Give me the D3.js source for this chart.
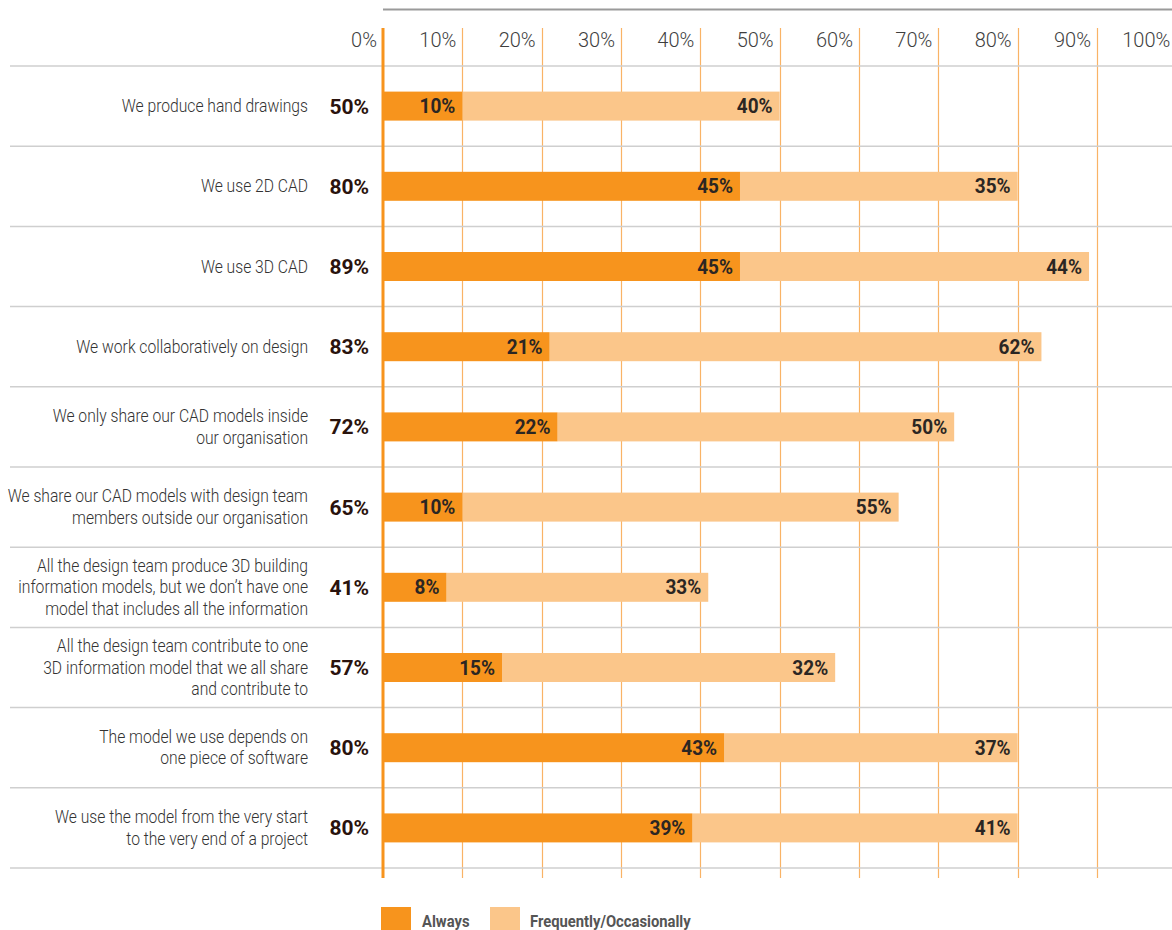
<!DOCTYPE html>
<html>
<head>
<meta charset="utf-8">
<script src="https://cdn.jsdelivr.net/npm/d3@7"></script>
<style>
  html, body { margin: 0; padding: 0; background: #fff; }
  svg { display: block; }
  text { font-family: Roboto, "Liberation Sans", sans-serif; }
</style>
</head>
<body>
<svg id="chart" width="1172" height="930"></svg>
<script>
// Survey statements (each line of a label is its own string)
const categories = [
  ["We produce hand drawings"],
  ["We use 2D CAD"],
  ["We use 3D CAD"],
  ["We work collaboratively on design"],
  ["We only share our CAD models inside", "our organisation"],
  ["We share our CAD models with design team", "members outside our organisation"],
  ["All the design team produce 3D building", "information models, but we don\u2019t have one", "model that includes all the information"],
  ["All the design team contribute to one", "3D information model that we all share", "and contribute to"],
  ["The model we use depends on", "one piece of software"],
  ["We use the model from the very start", "to the very end of a project"]
];
const always     = [10, 45, 45, 21, 22, 10, 8, 15, 43, 39];
const frequently = [40, 35, 44, 62, 50, 55, 33, 42, 37, 41];
// Printed segment figures (the published figure for row 8 reads 32%)
const frequentlyLabels = ["40%", "35%", "44%", "62%", "50%", "55%", "33%", "32%", "37%", "41%"];
const totals     = [50, 80, 89, 83, 72, 65, 41, 57, 80, 80];
const tickValues = [0, 10, 20, 30, 40, 50, 60, 70, 80, 90, 100];
const seriesNames = ["Always", "Frequently/Occasionally"];

const colors = { always: "#f7941d", frequently: "#fbc68a" };

const svg = d3.select("#chart");

const x = d3.scaleLinear().domain([0, 100]).range([383, 1176.3]);
const y = d3.scaleBand().domain(d3.range(categories.length)).range([66, 868]);
const barH = 29;

// Place a text at (px, py) horizontally squeezed to mimic a condensed face
function placeSqueezed(sel, px, py, s) {
  sel.attr("x", 0).attr("y", 0)
    .attr("transform", function (d, i) {
      const X = typeof px === "function" ? px(d, i) : px;
      const Y = typeof py === "function" ? py(d, i) : py;
      return `translate(${X},${Y}) scale(${s},1)`;
    });
}

// Top rule above the scale
svg.append("line")
  .attr("x1", 383).attr("x2", 1172).attr("y1", 9.5).attr("y2", 9.5)
  .attr("stroke", "#9a9a9a").attr("stroke-width", 2);

// Vertical gridlines
svg.append("g").selectAll("line")
  .data(tickValues.filter(d => d > 0))
  .join("line")
  .attr("x1", d => Math.round(x(d)) + 0.5).attr("x2", d => Math.round(x(d)) + 0.5)
  .attr("y1", 28).attr("y2", 878)
  .attr("stroke", "#f9b366").attr("stroke-width", 1.2);

// Row separators
svg.append("g").selectAll("line")
  .data(d3.range(categories.length + 1))
  .join("line")
  .attr("x1", 10).attr("x2", 1172)
  .attr("y1", i => (i < categories.length ? y(i) : y.range()[1]))
  .attr("y2", i => (i < categories.length ? y(i) : y.range()[1]))
  .attr("stroke", "#cfcfcf").attr("stroke-width", 1.5);

// Tick labels, set just left of each gridline
svg.append("g").selectAll("text")
  .data(tickValues)
  .join("text")
  .attr("text-anchor", "end")
  .attr("font-size", 20)
  .attr("font-weight", 300)
  .attr("fill", "#3e3e3e")
  .text(d => d + "%")
  .call(placeSqueezed, d => x(d) - 6, 47, 1.0);

// Stacked bars
const rows = svg.append("g").selectAll("g")
  .data(categories.map((c, i) => ({ i, c, a: always[i], f: frequently[i], fl: frequentlyLabels[i], t: totals[i] })))
  .join("g");

const midY = d => y(d.i) + y.bandwidth() / 2;

rows.append("rect")
  .attr("x", d => x(d.a))
  .attr("y", d => midY(d) - barH / 2)
  .attr("width", d => x(d.a + d.f) - x(d.a))
  .attr("height", barH)
  .attr("fill", colors.frequently);

rows.append("rect")
  .attr("x", x(0))
  .attr("y", d => midY(d) - barH / 2)
  .attr("width", d => x(d.a) - x(0))
  .attr("height", barH)
  .attr("fill", colors.always);

// Segment value labels
rows.append("text")
  .attr("text-anchor", "end")
  .attr("font-size", 20).attr("font-weight", "bold")
  .attr("fill", "#2b2623")
  .text(d => d.a + "%")
  .call(placeSqueezed, d => x(d.a) - 7, d => midY(d) + 7, 0.95);

rows.append("text")
  .attr("text-anchor", "end")
  .attr("font-size", 20).attr("font-weight", "bold")
  .attr("fill", "#2b2623")
  .text(d => d.fl)
  .call(placeSqueezed, d => x(d.a + d.f) - 7, d => midY(d) + 7, 0.95);

// Totals
rows.append("text")
  .attr("text-anchor", "end")
  .attr("font-size", 21).attr("font-weight", "bold")
  .attr("fill", "#2a130d")
  .text(d => d.t + "%")
  .call(placeSqueezed, 369, d => midY(d) + 7.5, 1.0);

// Category labels
const lineH = 21.5;
rows.append("text")
  .attr("text-anchor", "end")
  .attr("font-size", 18)
  .attr("font-weight", 300)
  .attr("fill", "#333")
  .attr("transform", d => `translate(308,${midY(d) + 6}) scale(0.87,1)`)
  .each(function (d) {
    const n = d.c.length;
    d3.select(this).selectAll("tspan")
      .data(d.c)
      .join("tspan")
      .attr("x", 0)
      .attr("y", (s, k) => (k - (n - 1) / 2) * lineH)
      .text(s => s);
  });

// Zero axis line
svg.append("line")
  .attr("x1", x(0)).attr("x2", x(0)).attr("y1", 28).attr("y2", 878)
  .attr("stroke", colors.always).attr("stroke-width", 3);

// Legend
const legend = svg.append("g");
const legendItems = [
  { name: seriesNames[0], color: colors.always, x: 381, tx: 422 },
  { name: seriesNames[1], color: colors.frequently, x: 490, tx: 530 }
];
legend.selectAll("rect")
  .data(legendItems).join("rect")
  .attr("x", d => d.x).attr("y", 907).attr("width", 30).attr("height", 26)
  .attr("fill", d => d.color);
legend.selectAll("text")
  .data(legendItems).join("text")
  .attr("font-size", 17).attr("font-weight", "bold")
  .attr("fill", "#555")
  .text(d => d.name)
  .call(placeSqueezed, d => d.tx, 927, 0.87);
</script>
</body>
</html>
